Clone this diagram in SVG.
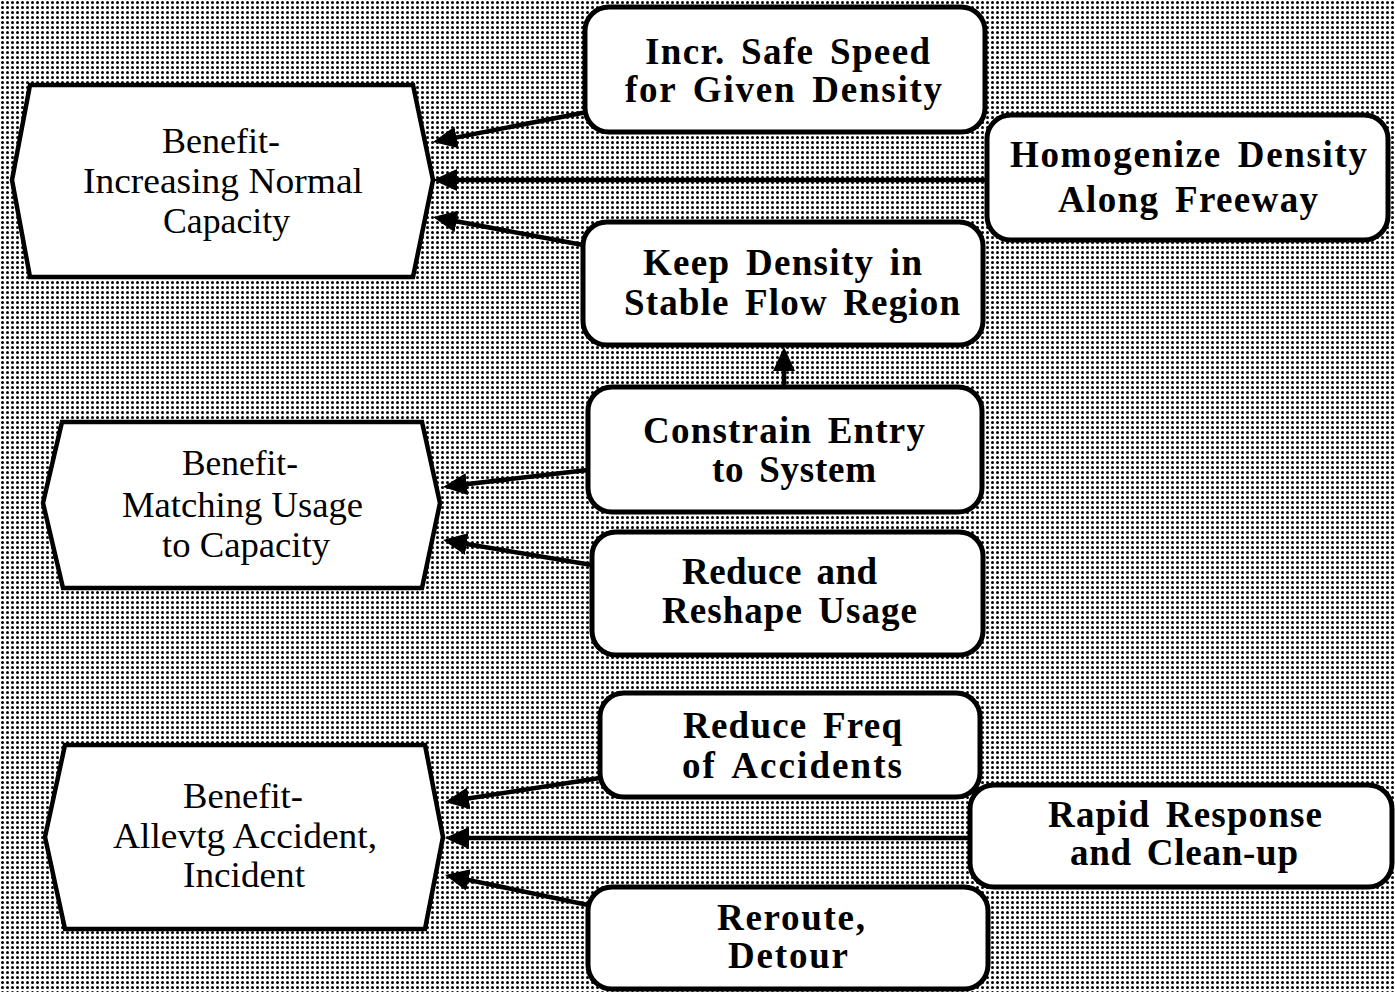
<svg xmlns="http://www.w3.org/2000/svg" width="1395" height="992" viewBox="0 0 1395 992">
  <defs>
    <!-- halftone dot screen for the background -->
    <pattern id="dots" width="5" height="5" patternUnits="userSpaceOnUse">
      <circle cx="2.5" cy="2.5" r="1.5" fill="#000"/>
    </pattern>
    <marker id="head" viewBox="0 0 24 22" refX="14" refY="11" markerWidth="24" markerHeight="22" markerUnits="userSpaceOnUse" orient="auto">
      <path d="M0,0 L24,11 L0,22 Z" fill="#000"/>
    </marker>
    <style>
      .hex { fill: #fff; stroke: #000; stroke-width: 4.5; stroke-linejoin: miter; }
      .box { fill: #fff; stroke: #000; stroke-width: 5; }
      .conn { fill: none; stroke: #000; stroke-width: 4.5; marker-end: url(#head); }
      .goal { font-family: "Liberation Serif", "Times New Roman", serif; font-size: 36px; fill: #000; text-anchor: middle; }
      .act { font-family: "Liberation Serif", "Times New Roman", serif; font-size: 37px; font-weight: bold; fill: #000; text-anchor: middle; word-spacing: 5px; }
    </style>
  </defs>

  <rect x="0" y="0" width="1395" height="992" fill="#fff"/>
  <rect x="0" y="0" width="1395" height="992" fill="url(#dots)"/>

  <!-- connectors -->
  <g id="connectors">
    <path class="conn" d="M587,112 L442.8,140.1"/>
    <path class="conn" d="M987,180 L443,180"/>
    <path class="conn" d="M583,245 L442.8,218.8"/>
    <path class="conn" d="M784,387 L784,357"/>
    <path class="conn" d="M588,470 L452.9,485.8"/>
    <path class="conn" d="M592,565 L452.9,541.7"/>
    <path class="conn" d="M600,778 L454.9,800.5"/>
    <path class="conn" d="M970,838 L455,838"/>
    <path class="conn" d="M588,905 L454.8,877.1"/>
  </g>

  <!-- benefit hexagons -->
  <g id="benefit-capacity">
    <polygon class="hex" points="30,85 413,85 433,180 413,277 30,277 12,180"/>
    <text class="goal" x="221" y="153" textLength="118" lengthAdjust="spacingAndGlyphs">Benefit-</text>
    <text class="goal" x="223" y="193" textLength="280" lengthAdjust="spacingAndGlyphs">Increasing Normal</text>
    <text class="goal" x="226.5" y="233" textLength="127" lengthAdjust="spacingAndGlyphs">Capacity</text>
  </g>
  <g id="benefit-usage">
    <polygon class="hex" points="62,422 422,422 440,503 422,588 63,588 43,503"/>
    <text class="goal" x="240" y="475" textLength="116" lengthAdjust="spacingAndGlyphs">Benefit-</text>
    <text class="goal" x="242.5" y="517" textLength="241" lengthAdjust="spacingAndGlyphs">Matching Usage</text>
    <text class="goal" x="246" y="557" textLength="168" lengthAdjust="spacingAndGlyphs">to Capacity</text>
  </g>
  <g id="benefit-accident">
    <polygon class="hex" points="65,745 425,745 443,837 425,929 65,929 45,837"/>
    <text class="goal" x="243" y="808" textLength="120" lengthAdjust="spacingAndGlyphs">Benefit-</text>
    <text class="goal" x="245" y="848" textLength="264" lengthAdjust="spacingAndGlyphs">Allevtg Accident,</text>
    <text class="goal" x="244" y="887" textLength="122" lengthAdjust="spacingAndGlyphs">Incident</text>
  </g>

  <!-- action boxes -->
  <g id="safe-speed">
    <rect class="box" x="585" y="7" width="400" height="125" rx="24"/>
    <text class="act" x="787.5" y="64" textLength="285" lengthAdjust="spacing">Incr. Safe Speed</text>
    <text class="act" x="783.5" y="102" textLength="317" lengthAdjust="spacing">for Given Density</text>
  </g>
  <g id="homogenize">
    <rect class="box" x="987" y="115" width="401" height="125" rx="24"/>
    <text class="act" x="1188.5" y="167" textLength="357" lengthAdjust="spacing">Homogenize Density</text>
    <text class="act" x="1188" y="212" textLength="260" lengthAdjust="spacing">Along Freeway</text>
  </g>
  <g id="stable-flow">
    <rect class="box" x="583" y="222" width="400" height="123" rx="24"/>
    <text class="act" x="782.5" y="275" textLength="279" lengthAdjust="spacing">Keep Density in</text>
    <text class="act" x="792" y="315" textLength="336" lengthAdjust="spacing">Stable Flow Region</text>
  </g>
  <g id="constrain-entry">
    <rect class="box" x="588" y="387" width="394" height="125" rx="24"/>
    <text class="act" x="784" y="443" textLength="282" lengthAdjust="spacing">Constrain Entry</text>
    <text class="act" x="794" y="482" textLength="164" lengthAdjust="spacing">to System</text>
  </g>
  <g id="reshape-usage">
    <rect class="box" x="592" y="532" width="391" height="123" rx="24"/>
    <text class="act" x="779.5" y="584" textLength="195" lengthAdjust="spacing">Reduce and</text>
    <text class="act" x="789.5" y="623" textLength="255" lengthAdjust="spacing">Reshape Usage</text>
  </g>
  <g id="reduce-accidents">
    <rect class="box" x="600" y="693" width="380" height="104" rx="24"/>
    <text class="act" x="792.5" y="738" textLength="219" lengthAdjust="spacing">Reduce Freq</text>
    <text class="act" x="792" y="778" textLength="220" lengthAdjust="spacing">of Accidents</text>
  </g>
  <g id="rapid-response">
    <rect class="box" x="970" y="785" width="422" height="102" rx="24"/>
    <text class="act" x="1185" y="827" textLength="274" lengthAdjust="spacing">Rapid Response</text>
    <text class="act" x="1184" y="865" textLength="228" lengthAdjust="spacing">and Clean-up</text>
  </g>
  <g id="reroute">
    <rect class="box" x="588" y="887" width="400" height="102" rx="24"/>
    <text class="act" x="791" y="930" textLength="148" lengthAdjust="spacing">Reroute,</text>
    <text class="act" x="788" y="968" textLength="120" lengthAdjust="spacing">Detour</text>
  </g>
</svg>
